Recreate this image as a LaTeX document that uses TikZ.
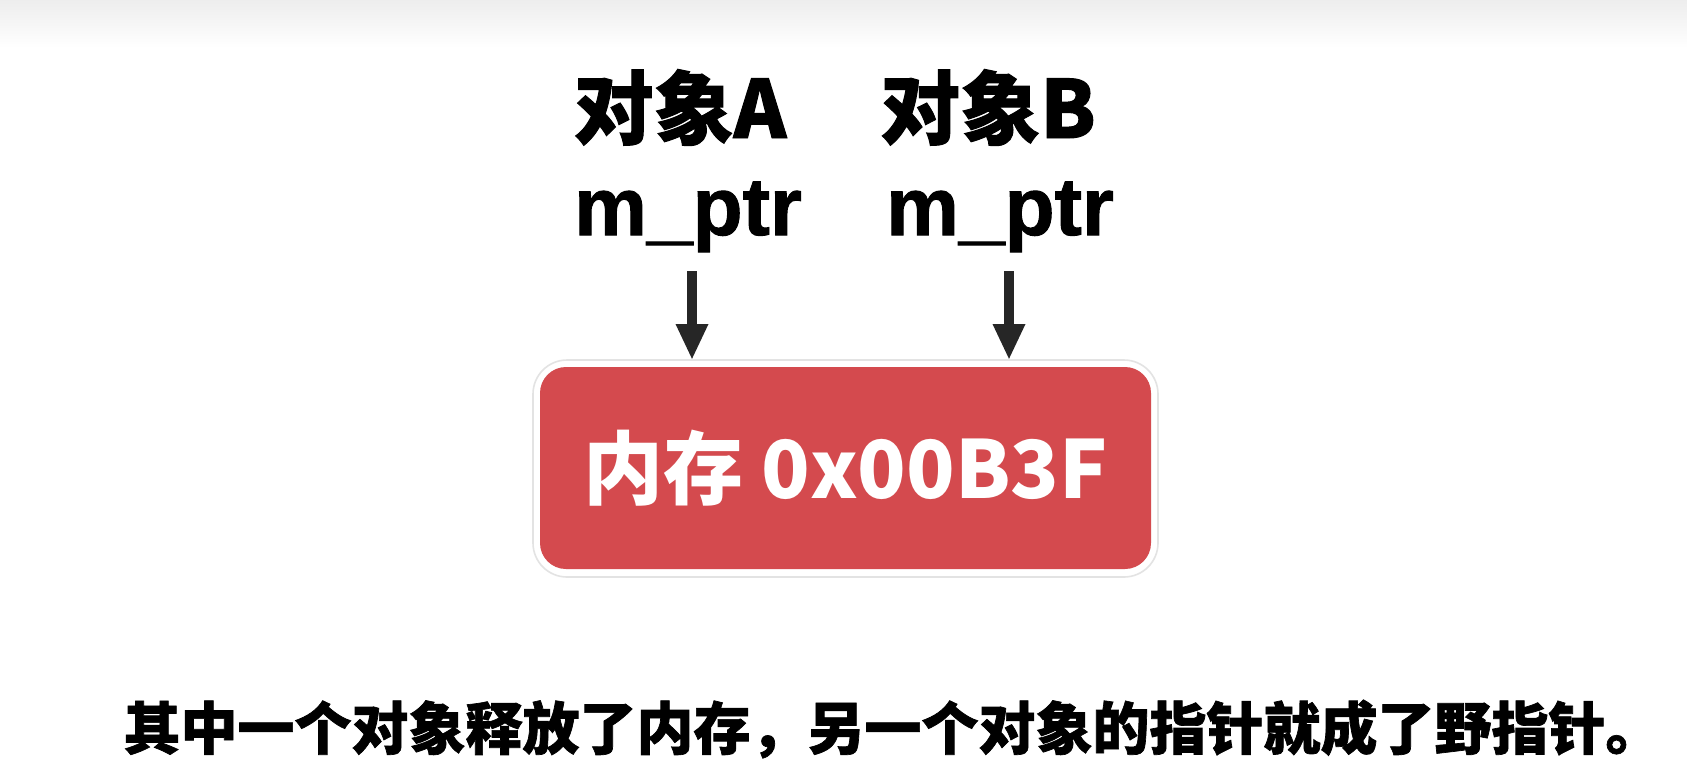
\documentclass[tikz,border=0pt]{standalone}
\usepackage{fontspec}
\newfontfamily\cjk{Noto Sans CJK SC}
\newfontfamily\cjkheavy{Noto Sans CJK SC}[BoldFeatures={FakeBold=1.2}]
\newfontfamily\arialf{Liberation Sans}[BoldFeatures={FakeBold=1.2}]
\usetikzlibrary{arrows.meta,backgrounds}
\definecolor{memred}{HTML}{D44A4E}
\definecolor{arrowgray}{HTML}{262626}
\tikzset{
  toplabel/.style={inner sep=0pt, outer sep=0pt, font=\cjkheavy\bfseries\fontsize{40pt}{46pt}\selectfont, text=black},
  ptrlabel/.style={inner sep=0pt, outer sep=0pt, font=\arialf\bfseries\fontsize{41pt}{46pt}\selectfont, text=black},
  membox/.style={fill=memred, rounded corners=13pt, minimum width=305.5pt, minimum height=101pt, inner sep=0pt, outer sep=0pt, text=white, font=\cjk\bfseries\fontsize{40pt}{46pt}\selectfont},
  memframe/.style={fill=white, draw=black!11, line width=0.8pt, rounded corners=17pt},
  ptrarrow/.style={draw=arrowgray, line width=5pt, -{Triangle[width=15pt,length=18pt]}},
  caption/.style={inner sep=0pt, outer sep=0pt, font=\cjkheavy\bfseries\fontsize{28.5pt}{34pt}\selectfont, text=black}
}
\begin{document}
\begin{tikzpicture}[x=0.5pt,y=-0.5pt]
\useasboundingbox (0,0) rectangle (1687,768);
\node[toplabel, anchor=base] (la) at (680,138) {对象A};
\node[ptrlabel, anchor=base] (pa) at (688,235) {m\_ptr};
\node[toplabel, anchor=base] (lb) at (988,138) {对象B};
\node[ptrlabel, anchor=base] (pb) at (1000,235) {m\_ptr};
\node[membox] (mem) at (845.5,468) {\raisebox{-0.5ex}{内存 0x00B3F}};
\node[caption] (cap) at (893,729) {其中一个对象释放了内存，另一个对象的指针就成了野指针。};
\draw[ptrarrow, shorten >=3.5pt] ([xshift=2pt,yshift=-9.5pt]pa.south) -- ([xshift=2pt]pa.south |- mem.north);
\draw[ptrarrow, shorten >=3.5pt] ([xshift=4.5pt,yshift=-9.5pt]pb.south) -- ([xshift=4.5pt]pb.south |- mem.north);
\begin{scope}[on background layer]
\fill[white] (0,0) rectangle (1687,768);
\shade[top color=black!7, bottom color=white] (0,0) rectangle (1687,48);
\draw[memframe] ([shift={(-7,-7)}]mem.north west) rectangle ([shift={(7,8)}]mem.south east);
\end{scope}
\end{tikzpicture}
\end{document}
